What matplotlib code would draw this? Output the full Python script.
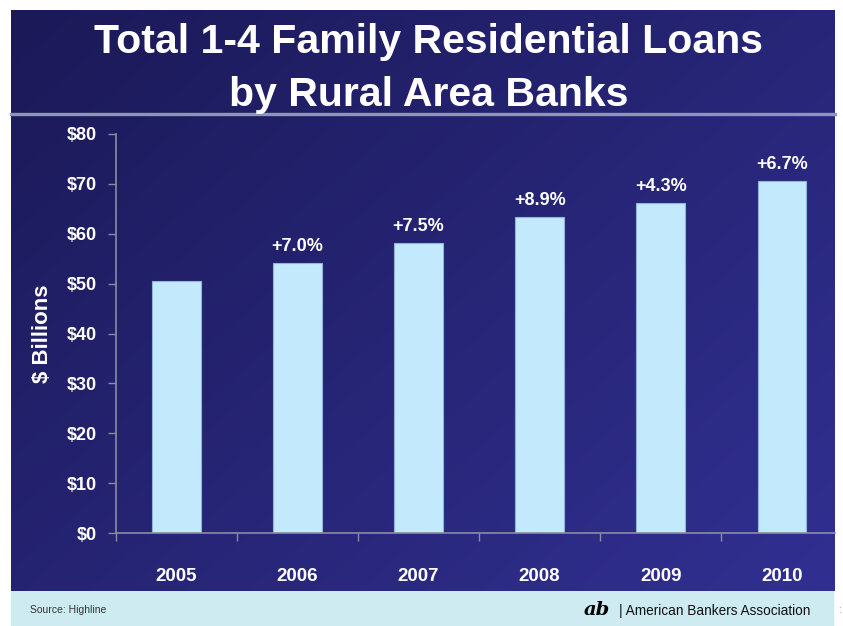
import numpy as np
import matplotlib.pyplot as plt
from matplotlib.patches import Rectangle
from matplotlib.lines import Line2D

plt.rcParams['font.family'] = ['Liberation Sans', 'DejaVu Sans']

# ─── datos ────────────────────────────────────────────────
years = ['2005', '2006', '2007', '2008', '2009', '2010']
loans = [50.5, 54.1, 58.2, 63.4, 66.1, 70.6]
growth = ['', '+7.0%', '+7.5%', '+8.9%', '+4.3%', '+6.7%']
yticks = [0, 10, 20, 30, 40, 50, 60, 70, 80]

W, H = 843, 626
fig = plt.figure(figsize=(W / 100, H / 100), dpi=100)
fig.patch.set_facecolor('white')


def fx(px):
    return px / W


def fy(py):
    return 1 - py / H


# fondo degradado del panel
px0, px1, py0, py1 = 11, 835, 10, 591
bg = fig.add_axes([fx(px0), fy(py1), fx(px1 - px0), fy(py0) - fy(py1)])
gx, gy = np.meshgrid(np.linspace(0, 1, 300), np.linspace(0, 1, 300))
t = 0.55 * gx + 0.45 * gy
c0 = np.array([0x1b, 0x19, 0x57]) / 255
c1 = np.array([0x31, 0x30, 0x92]) / 255
img = c0[None, None, :] * (1 - t[..., None]) + c1[None, None, :] * t[..., None]
bg.imshow(img, aspect='auto', extent=[0, 1, 0, 1], origin='upper')
bg.set_axis_off()

# línea separadora bajo el título
fig.add_artist(Line2D([fx(px0), fx(px1)], [fy(114), fy(114)],
                      color='#8f95b8', lw=2.4, transform=fig.transFigure))

# título
fig.text(0.508, fy(42), 'Total 1-4 Family Residential Loans', color='white',
         fontsize=29.5, fontweight='bold', ha='center', va='center')
fig.text(0.508, fy(95), 'by Rural Area Banks', color='white',
         fontsize=29.5, fontweight='bold', ha='center', va='center')

# pie de página
fig.add_artist(Rectangle((fx(px0), 0), fx(833 - px0), fy(py1), color='#cdebf1',
                         transform=fig.transFigure, zorder=0))
fig.text(fx(30), fy(610), 'Source: Highline', color='#333333', fontsize=7.5,
         va='center', ha='left')
fig.text(fx(584), fy(610), 'ab', color='black', fontsize=14, fontweight='bold',
         family='DejaVu Serif', va='center', ha='left', style='italic')
fig.text(fx(619), fy(611), '| American Bankers Association', color='#111111',
         fontsize=9.8, va='center', ha='left')
fig.text(fx(838), fy(610), ':', color='#888888', fontsize=7, va='center')

# gráfico de barras
ax = fig.add_axes([fx(116), fy(533), fx(835 - 116), fy(134) - fy(533)])
ax.set_facecolor('none')
x = np.arange(len(years))
bars = ax.bar(x, loans, width=0.4, color='#c2e9fc', edgecolor='#8db6dc', lw=0.8)
for xi, v, g in zip(x, loans, growth):
    if g:
        ax.text(xi, v + 1.6, g, color='white', fontsize=13, fontweight='bold',
                ha='center', va='bottom')

ax.set_ylim(0, 80)
ax.set_xlim(-0.5, 5.44)
ax.set_yticks(yticks)
ax.set_yticklabels([f'${v}' for v in yticks])
ax.set_xticks(x)
ax.set_xticklabels(years)
ax.set_xticks(np.arange(-0.5, 5.5, 1.0), minor=True)
ax.tick_params(axis='x', which='major', length=0, pad=25, colors='white',
               labelsize=13.5)
ax.tick_params(axis='x', which='minor', length=6, color='#8c8ca0', width=1)
ax.tick_params(axis='y', length=6, color='#8c8ca0', width=1, colors='white',
               labelsize=13, pad=8)
for lab in ax.get_xticklabels() + ax.get_yticklabels():
    lab.set_fontweight('bold')
ax.tick_params(axis='y', color='#8c8ca0')
ax.spines['top'].set_visible(False)
ax.spines['right'].set_visible(False)
ax.spines['left'].set_color('#8c8ca0')
ax.spines['bottom'].set_color('#8c8ca0')
ax.spines['left'].set_linewidth(1.2)
ax.spines['bottom'].set_linewidth(1.2)
ax.set_ylabel('$ Billions', color='white', fontsize=16, fontweight='bold',
              labelpad=10)

fig.savefig('out.png', dpi=100)
